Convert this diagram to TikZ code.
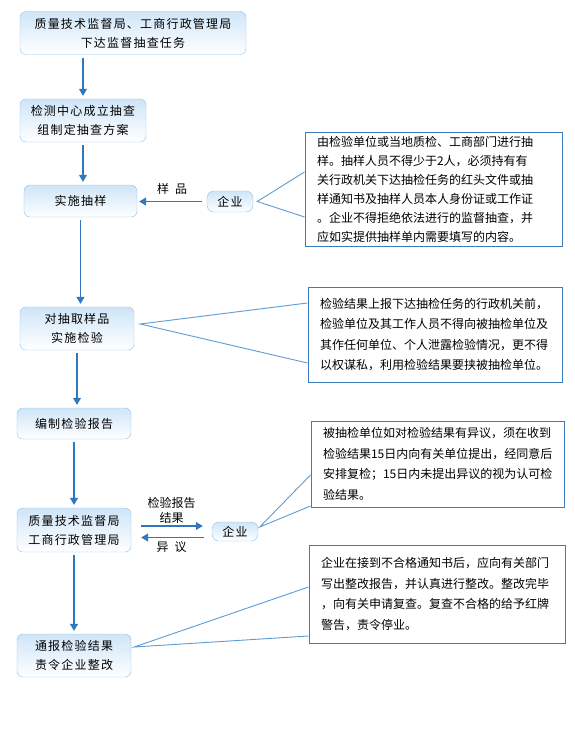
\documentclass[tikz,border=0pt]{standalone}
\usepackage{fontspec}
\usepackage{tikz}
\usetikzlibrary{arrows.meta,positioning,calc}
\newfontfamily\cjk{Noto Sans CJK SC}
\newfontfamily\cjkwide{Noto Sans CJK SC}[LetterSpace=10]
\definecolor{FlowBlue}{HTML}{2F78BD}
\definecolor{FlowEdge}{HTML}{8DC0E8}
\definecolor{FlowLightBlue}{HTML}{CFE5F8}
\definecolor{FlowNote}{HTML}{3B7DBB}
\definecolor{FlowLine}{HTML}{5E9BD2}

\begin{document}
\begin{tikzpicture}[x=1pt,y=-1pt,
    stage/.style={draw=FlowEdge,top color=FlowLightBlue,bottom color=white,rounded corners=6pt,align=center,inner sep=0pt,font=\cjkwide\fontsize{12}{19}\selectfont},
    firm/.style={draw=FlowEdge,top color=FlowLightBlue,bottom color=white,rounded corners=7pt,minimum width=46pt,inner sep=0pt,font=\cjkwide\fontsize{12}{14}\selectfont},
    note/.style={draw=FlowNote,line width=1pt,align=left,inner xsep=12pt,inner ysep=0pt,font=\cjk\fontsize{12}{20.5}\selectfont},
    tag/.style={inner sep=1pt,align=center,font=\cjk\fontsize{12}{15}\selectfont},
    arr/.style={-{Triangle[length=7pt,width=8pt]},line width=1.2pt,FlowBlue,shorten <=3pt,shorten >=3pt},
    callout/.style={FlowLine,line width=0.9pt}
  ]
    \useasboundingbox (0,0) rectangle (574,732);

    \node[stage,minimum width=226pt,minimum height=43pt] (task) at (133,33) {质量技术监督局、工商行政管理局\\下达监督抽查任务};
    \node[stage,minimum width=126pt,minimum height=43pt] (plan) at (83,120.5) {检测中心成立抽查\\组制定抽查方案};
    \node[stage,minimum width=113pt,minimum height=32pt] (sample) at (80.5,201) {实施抽样};
    \node[stage,minimum width=114pt,minimum height=43pt] (test) at (77,328.5) {对抽取样品\\实施检验};
    \node[stage,minimum width=114pt,minimum height=31pt] (report) at (74,423.5) {编制检验报告};
    \node[stage,minimum width=114pt,minimum height=44pt] (bureau) at (74,530) {质量技术监督局\\工商行政管理局};
    \node[stage,minimum width=114pt,minimum height=43pt] (notify) at (74,655.5) {通报检验结果\\责令企业整改};

    \node[firm,minimum height=21pt] (firmA) at (230,201.5) {企业};
    \node[firm,minimum height=19pt] (firmB) at (235,531.5) {企业};

    \node[note,text width=233pt,minimum height=114pt,font=\cjk\fontsize{12}{19}\selectfont] (noteA) at (433.5,189) {由检验单位或当地质检、工商部门进行抽\\样。抽样人员不得少于2人，必须持有有\\关行政机关下达抽检任务的红头文件或抽\\样通知书及抽样人员本人身份证或工作证\\。企业不得拒绝依法进行的监督抽查，并\\应如实提供抽样单内需要填写的内容。};
    \node[note,text width=230pt,minimum height=95pt] (noteB) at (435,334.5) {检验结果上报下达抽检任务的行政机关前，\\检验单位及其工作人员不得向被抽检单位及\\其作任何单位、个人泄露检验情况，更不得\\以权谋私，利用检验结果要挟被抽检单位。};
    \node[note,text width=229pt,minimum height=86pt] (noteC) at (437.5,464) {被抽检单位如对检验结果有异议，须在收到\\检验结果15日内向有关单位提出，经同意后\\安排复检；15日内未提出异议的视为认可检\\验结果。};
    \node[note,text width=232pt,minimum height=98pt] (noteD) at (437,594) {企业在接到不合格通知书后，应向有关部门\\写出整改报告，并认真进行整改。整改完毕\\，向有关申请复查。复查不合格的给予红牌\\警告，责令停业。};

    \draw[arr] (plan.north |- task.south) -- (plan.north);
    \draw[arr] (plan.south) -- (plan.south |- sample.north);
    \draw[arr] (sample.south) -- (sample.south |- test.north);
    \draw[arr] (test.south) -- (test.south |- report.north);
    \draw[arr] (report.south) -- (bureau.north);
    \draw[arr] (bureau.south) -- (notify.north);

    \draw[arr,shorten <=5pt,shorten >=2pt] (firmA.west) -- (firmA.west -| sample.east) node[midway,above=5pt,tag,text=black] {样\hspace{6pt}品};
    \draw[arr,shorten <=10pt,shorten >=9pt] ([yshift=4pt]bureau.east) -- ([yshift=4pt]bureau.east -| firmB.west) node[midway,above=1pt,tag,text=black] {检验报告\\结果};
    \draw[arr,shorten <=8pt,shorten >=10pt] ([yshift=-6pt]firmB.west) -- ([yshift=-6pt]firmB.west -| bureau.east) node[midway,below=3pt,tag,text=black] {异\hspace{6pt}议};

    \draw[callout] ([yshift=17pt]noteA.west) -- ([xshift=4pt]firmA.east) -- ([yshift=-28pt]noteA.west);
    \draw[callout] ([yshift=31.5pt]noteB.west) -- ([xshift=6pt,yshift=4.5pt]test.east) -- ([yshift=-28.5pt]noteB.west);
    \draw[callout] ([yshift=-11pt]noteC.west) -- ([xshift=1.5pt,yshift=4.5pt]firmB.east) -- ([yshift=-42pt]noteC.west);
    \draw[callout] ([yshift=7pt]noteD.west) -- ([xshift=3pt,yshift=8.5pt]notify.east) -- ([yshift=-42pt]noteD.west);
  \end{tikzpicture}
\end{document}
